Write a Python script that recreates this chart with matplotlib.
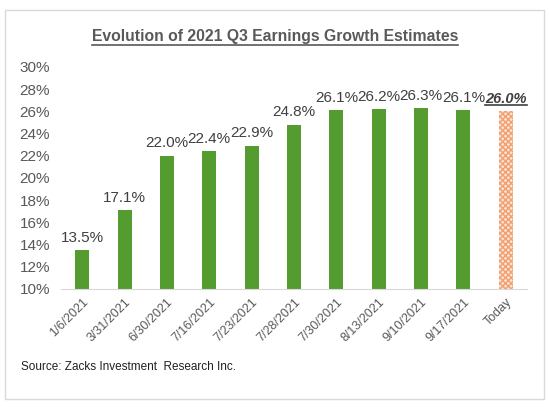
import matplotlib
matplotlib.use("Agg")
import matplotlib.pyplot as plt
from matplotlib.patches import Rectangle
from matplotlib.lines import Line2D

dates = ["1/6/2021", "3/31/2021", "6/30/2021", "7/16/2021", "7/23/2021", "7/28/2021",
         "7/30/2021", "8/13/2021", "9/10/2021", "9/17/2021", "Today"]
values = [13.5, 17.1, 22.0, 22.4, 22.9, 24.8, 26.1, 26.2, 26.3, 26.1, 26.0]
yticks = list(range(10, 31, 2))

plt.rcParams['font.family'] = ['Liberation Sans', 'DejaVu Sans']

W, H = 549, 409
fig = plt.figure(figsize=(W / 100, H / 100), dpi=100)
fig.patch.set_facecolor("white")

# outer border
fig.add_artist(Rectangle((5 / W, 1 - 399 / H), 539 / W, 389 / H, transform=fig.transFigure,
                         fill=False, edgecolor="#d9d9d9", linewidth=1.0))

ax = fig.add_axes([61 / W, 1 - 289 / H, 466 / W, 222 / H])
x = list(range(len(values)))
green = "#559c30"
for i, v in enumerate(values):
    if dates[i] == "Today":
        ax.bar(i, v - 10, bottom=10, width=0.33, facecolor="#fbe3d3", edgecolor="#f0a070",
               hatch="xxxxxx", linewidth=0)
    else:
        ax.bar(i, v - 10, bottom=10, width=0.33, color=green)

ax.set_ylim(10, 30)
ax.set_xlim(-0.5, len(values) - 0.5)
ax.set_yticks(yticks)
ax.set_yticklabels([f"{t}%" for t in yticks], fontsize=11, color="#595959")
ax.set_xticks(x)
ax.set_xticklabels(dates, rotation=45, ha="right", rotation_mode="anchor",
                   fontsize=9, color="#595959")
ax.tick_params(axis="y", length=0, pad=8)
ax.tick_params(axis="x", length=0, pad=5)
for s in ["top", "right", "left"]:
    ax.spines[s].set_visible(False)
ax.spines["bottom"].set_color("#d9d9d9")

for i, v in enumerate(values):
    if dates[i] == "Today":
        t = ax.text(i, v + 0.5, f"{v:.1f}%", ha="center", va="bottom", fontsize=10.5,
                    color="#404040", fontweight="bold", fontstyle="italic")
    else:
        ax.text(i, v + 0.5, f"{v:.1f}%", ha="center", va="bottom", fontsize=11,
                color="#404040")

# underline Today label
fig.canvas.draw()
bb = t.get_window_extent()
fig.add_artist(Line2D([bb.x0 / W, bb.x1 / W], [(bb.y0 + 1) / H] * 2, transform=fig.transFigure,
                      color="#404040", linewidth=1.2))

title = fig.text(275 / W, 1 - 37 / H, "Evolution of 2021 Q3 Earnings Growth Estimates",
                 ha="center", va="center", fontsize=11.3, fontweight="bold", color="#595959")
fig.canvas.draw()
tb = title.get_window_extent()
fig.add_artist(Line2D([tb.x0 / W, tb.x1 / W], [(tb.y0 - 0.5) / H] * 2, transform=fig.transFigure,
                      color="#595959", linewidth=1.2))

fig.text(21 / W, 1 - 367 / H, "Source: Zacks Investment  Research Inc.", ha="left", va="center",
         fontsize=8.5, color="#202020")

fig.savefig("out.png", dpi=100, facecolor="white")
